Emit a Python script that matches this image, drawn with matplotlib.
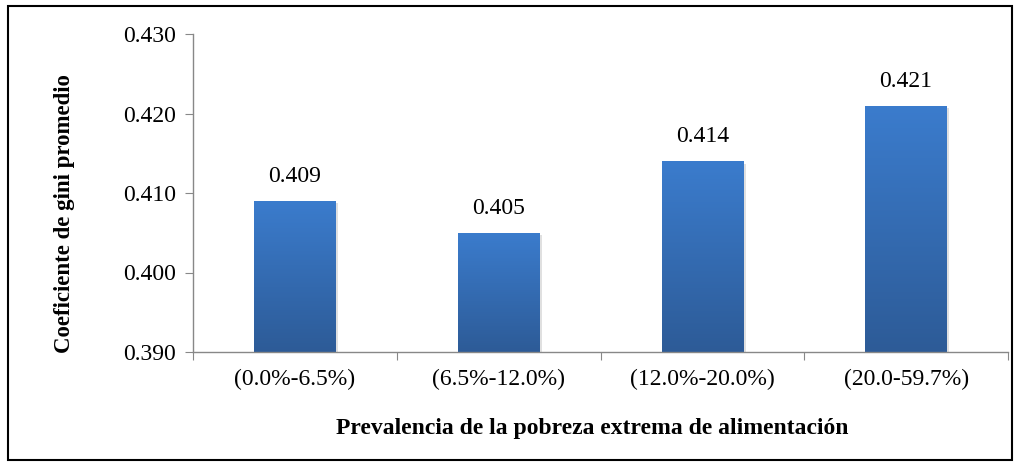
import matplotlib
matplotlib.use("Agg")
import matplotlib.pyplot as plt
import numpy as np
from matplotlib.colors import LinearSegmentedColormap
from matplotlib.patches import Rectangle

categories = ["(0.0%-6.5%)", "(6.5%-12.0%)", "(12.0%-20.0%)", "(20.0-59.7%)"]
values = [0.409, 0.405, 0.414, 0.421]
value_labels = ["0.409", "0.405", "0.414", "0.421"]
yticks = [0.390, 0.400, 0.410, 0.420, 0.430]

plt.rcParams['font.family'] = ['Liberation Serif', 'DejaVu Serif']

fig = plt.figure(figsize=(10.18, 4.63), dpi=100)
ax = fig.add_axes([193/1018, 1-352/463, (1008-193)/1018, (352-34)/463])

x = np.arange(len(categories))
bars = ax.bar(x, values, width=0.4, bottom=0, color='none', edgecolor='none', zorder=2)
ax.set_ylim(0.390, 0.430)
ax.set_xlim(-0.5, len(categories) - 0.5)

cmap = LinearSegmentedColormap.from_list('g', ['#2D5B97', '#3B7CCD'])
grad = np.linspace(0, 1, 256).reshape(-1, 1)
for b in bars:
    x0 = b.get_x(); w = b.get_width(); h = b.get_height()
    sh = Rectangle((x0 + 0.012, 0.390), w, h - 0.390 - 0.0003, facecolor='#000000', alpha=0.12,
                   edgecolor='none', zorder=1)
    ax.add_patch(sh)
    im = ax.imshow(grad, extent=[x0, x0 + w, 0.390, h], origin='lower', cmap=cmap,
                   aspect='auto', zorder=2)
    im.set_clip_path(b)

for xi, v, lab in zip(x, values, value_labels):
    ax.annotate(lab, (xi, v), xytext=(0, 10), textcoords='offset points',
                ha='center', va='bottom', fontsize=17)

ax.set_yticks(yticks)
ax.set_yticklabels([f"{t:.3f}" for t in yticks], fontsize=17)
ax.set_xticks(np.arange(-0.5, len(categories)), labels=[])
ax.set_xticks(x, labels=categories, minor=True, fontsize=17)
ax.tick_params(axis='x', which='minor', length=0, pad=12)
ax.tick_params(axis='x', which='major', length=6, color='#888888', direction='out')
ax.tick_params(axis='y', length=6, color='#888888', pad=6)

for s in ['top', 'right']:
    ax.spines[s].set_visible(False)
for s in ['left', 'bottom']:
    ax.spines[s].set_color('#888888')
    ax.spines[s].set_linewidth(1)

ax.set_xlabel("Prevalencia de la pobreza extrema de alimentación", fontsize=17,
              fontweight='bold', labelpad=20)
ax.xaxis.label.set_x(0.49)
ax.set_ylabel("Coeficiente de gini promedio", fontsize=16.5, fontweight='bold')
ax.yaxis.set_label_coords(-0.158, 0.434)
ax.yaxis.label.set_verticalalignment('center')

fig.patches.append(Rectangle((8/1018, 1-460/463), (1012-8)/1018, (460-6)/463,
                             transform=fig.transFigure, fill=False, edgecolor='black',
                             linewidth=1.5))

fig.savefig("out.png", dpi=100)
